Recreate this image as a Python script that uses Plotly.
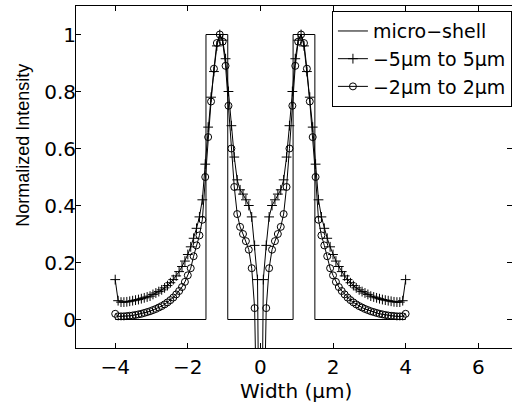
import numpy as np
import plotly.graph_objects as go

# Micro-shell reference profile (step outline)
shell_x = [-4.0, -1.5, -1.5, -0.9, -0.9, 0.9, 0.9, 1.5, 1.5, 4.0]
shell_y = [0, 0, 1, 1, 0, 0, 1, 1, 0, 0]

# Sampling positions of the simulated profiles (um)
width_um = np.round(np.linspace(-4.0, 4.0, 101), 2)

# Normalized intensity, simulation domain -5um to 5um
intensity_5um = [
    0.14, 0.066, 0.061, 0.061, 0.062, 0.064, 0.066, 0.068, 0.070, 0.073,
    0.076, 0.079, 0.082, 0.088, 0.093, 0.098, 0.104, 0.111, 0.119, 0.129,
    0.140, 0.153, 0.168, 0.186, 0.205, 0.228, 0.255, 0.285, 0.32, 0.36,
    0.42, 0.545, 0.675, 0.78, 0.87, 0.96, 1.00, 0.98, 0.915, 0.80,
    0.68, 0.57, 0.49, 0.455, 0.44, 0.42, 0.40, 0.36, 0.26, 0.14,
    -1.0,
    0.14, 0.26, 0.36, 0.40, 0.42, 0.44, 0.455, 0.49, 0.57, 0.68,
    0.80, 0.915, 0.98, 1.00, 0.96, 0.87, 0.78, 0.675, 0.545, 0.42,
    0.36, 0.32, 0.285, 0.255, 0.228, 0.205, 0.186, 0.168, 0.153, 0.140,
    0.129, 0.119, 0.111, 0.104, 0.098, 0.093, 0.088, 0.082, 0.079, 0.076,
    0.073, 0.070, 0.068, 0.066, 0.064, 0.062, 0.061, 0.061, 0.066, 0.14,
]

# Normalized intensity, simulation domain -2um to 2um
intensity_2um = [
    0.02, 0.011, 0.011, 0.011, 0.012, 0.013, 0.014, 0.016, 0.018, 0.020,
    0.023, 0.026, 0.029, 0.033, 0.037, 0.042, 0.047, 0.053, 0.060, 0.068,
    0.077, 0.088, 0.100, 0.114, 0.132, 0.155, 0.18, 0.222, 0.26, 0.295,
    0.35, 0.50, 0.64, 0.765, 0.88, 0.97, 1.00, 0.975, 0.89, 0.75,
    0.60, 0.465, 0.37, 0.325, 0.30, 0.275, 0.245, 0.18, 0.04, -0.5,
    -1.0,
    -0.5, 0.04, 0.18, 0.245, 0.275, 0.30, 0.325, 0.37, 0.465, 0.60,
    0.75, 0.89, 0.975, 1.00, 0.97, 0.88, 0.765, 0.64, 0.50, 0.35,
    0.295, 0.26, 0.222, 0.18, 0.155, 0.132, 0.114, 0.100, 0.088, 0.077,
    0.068, 0.060, 0.053, 0.047, 0.042, 0.037, 0.033, 0.029, 0.026, 0.023,
    0.020, 0.018, 0.016, 0.014, 0.013, 0.012, 0.011, 0.011, 0.011, 0.02,
]

x_ticks = [-4, -2, 0, 2, 4, 6]
y_ticks = [0, 0.2, 0.4, 0.6, 0.8, 1]
y_ticktext = ["0", "0.2", "0.4", "0.6", "0.8", "1"]

TEXT_FONT = "DejaVu Sans"
LABEL_FONT = "Liberation Sans"

fig = go.Figure()
fig.add_trace(go.Scatter(
    x=shell_x, y=shell_y, mode="lines", name="micro\u2212shell",
    line=dict(color="black", width=1), legendgroup="a",
))
fig.add_trace(go.Scatter(
    x=width_um, y=intensity_5um, mode="lines+markers",
    name="\u22125\u00b5m to 5\u00b5m",
    line=dict(color="black", width=1),
    marker=dict(symbol="cross-thin", size=7, line=dict(color="black", width=1)),
    legendgroup="b",
))
fig.add_trace(go.Scatter(
    x=width_um, y=intensity_2um, mode="lines+markers",
    name="\u22122\u00b5m to 2\u00b5m",
    line=dict(color="black", width=1),
    marker=dict(symbol="circle-open", size=7, color="black", line=dict(width=1)),
    legendgroup="c",
))

axis_common = dict(
    showline=True, linecolor="black", linewidth=1, mirror="ticks",
    ticks="inside", ticklen=5, tickcolor="black",
    showgrid=False, zeroline=False,
    tickfont=dict(family=TEXT_FONT, size=20, color="black"),
)
fig.update_xaxes(range=[-5.08, 6.93], tickvals=x_ticks, ticklabelstandoff=1, **axis_common)
fig.update_yaxes(range=[-0.1, 1.1], tickvals=y_ticks, ticktext=y_ticktext,
                 ticklabelstandoff=-5, **axis_common)

fig.update_layout(
    width=512, height=403,
    margin=dict(l=76, r=0, t=6, b=55, autoexpand=False),
    paper_bgcolor="white", plot_bgcolor="white",
    showlegend=True,
    legend=dict(
        x=0.587, y=0.985, xanchor="left", yanchor="top",
        bgcolor="white", bordercolor="black", borderwidth=1,
        font=dict(family=TEXT_FONT, size=19, color="black"),
        tracegroupgap=0,
    ),
    annotations=[
        dict(text="Width (\u00b5m)", xref="paper", yref="paper",
             x=0.505, y=-0.125, xanchor="center", yanchor="middle", showarrow=False,
             font=dict(family=TEXT_FONT, size=20, color="black")),
        dict(text="Normalized Intensity", xref="paper", yref="paper",
             x=-0.1216, y=0.594, xanchor="center", yanchor="middle", showarrow=False,
             textangle=-90,
             font=dict(family=LABEL_FONT, size=18, color="black")),
    ],
)

fig.write_html("out.html")
